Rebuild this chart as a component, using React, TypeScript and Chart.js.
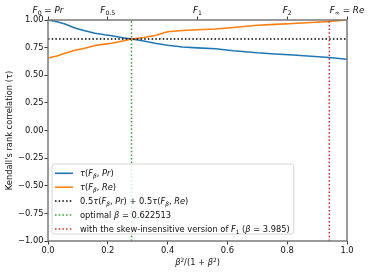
import React, { useEffect, useRef } from 'react';
import { Chart, registerables } from 'chart.js';

Chart.register(...registerables);

// x positions in beta^2 / (1 + beta^2)
const xVals = [0, 0.03, 0.057, 0.09, 0.12, 0.157, 0.19, 0.213, 0.25, 0.28, 0.32, 0.358, 0.4, 0.45, 0.5, 0.56, 0.62, 0.7, 0.76, 0.82, 0.88, 0.94, 1.0];
const tauPr = [1.0, 0.985, 0.964, 0.928, 0.905, 0.88, 0.866, 0.858, 0.84, 0.828, 0.81, 0.79, 0.772, 0.755, 0.748, 0.74, 0.722, 0.703, 0.693, 0.683, 0.672, 0.66, 0.645];
const tauRe = [0.656, 0.675, 0.7, 0.727, 0.742, 0.77, 0.782, 0.79, 0.81, 0.828, 0.842, 0.86, 0.893, 0.905, 0.912, 0.918, 0.932, 0.952, 0.96, 0.968, 0.978, 0.987, 1.0];
const avgLevel = 0.828;
const betaOpt = 0.622513;
const betaSkew = 3.985;

const yTicks = [-1, -0.75, -0.5, -0.25, 0, 0.25, 0.5, 0.75, 1];
const xTicks = [0, 0.2, 0.4, 0.6, 0.8, 1.0];
const topTickBetas = [0, 0.5, 1, 2, Infinity];

type Seg = [string, string];
const topTickLabels: Seg[][] = [
  [['F', 'i'], ['0', 'sub'], [' = ', 'n'], ['Pr', 'i']],
  [['F', 'i'], ['0.5', 'sub']],
  [['F', 'i'], ['1', 'sub']],
  [['F', 'i'], ['2', 'sub']],
  [['F', 'i'], ['∞', 'sub'], [' = ', 'n'], ['Re', 'i']],
];

const legendLabels: Seg[][] = [
  [['τ', 'i'], ['(', 'n'], ['F', 'i'], ['β', 'subi'], [', ', 'n'], ['Pr', 'i'], [')', 'n']],
  [['τ', 'i'], ['(', 'n'], ['F', 'i'], ['β', 'subi'], [', ', 'n'], ['Re', 'i'], [')', 'n']],
  [['0.5', 'n'], ['τ', 'i'], ['(', 'n'], ['F', 'i'], ['β', 'subi'], [', ', 'n'], ['Pr', 'i'], [') + 0.5', 'n'], ['τ', 'i'], ['(', 'n'], ['F', 'i'], ['β', 'subi'], [', ', 'n'], ['Re', 'i'], [')', 'n']],
  [['optimal ', 'n'], ['β', 'i'], [' = 0.622513', 'n']],
  [['with the skew-insensitive version of ', 'n'], ['F', 'i'], ['1', 'sub'], [' (', 'n'], ['β', 'i'], [' = 3.985)', 'n']],
];

const yTitle = "Kendall's rank correlation (τ)";
const xTitle: Seg[] = [['β', 'i'], ['2', 'sup'], ['/(1 + ', 'n'], ['β', 'i'], ['2', 'sup'], [')', 'n']];

const C_BLUE = '#1f77b4';
const C_ORANGE = '#ff7f0e';
const C_GREEN = '#2ca02c';
const C_RED = '#d62728';
const FONT = '"DejaVu Sans", sans-serif';
const FS = 8.3;
const TXT = '#111';
const DOT = [1.5, 2.2];
const DOT_W = 1.5;

const toX = (b: number) => (b === Infinity ? 1 : (b * b) / (1 + b * b));

function segFont(kind: string, size: number) {
  const italic = kind.endsWith('i');
  const small = kind.startsWith('sub') || kind.startsWith('sup');
  const s = small ? size * 0.7 : size;
  return `${italic ? 'italic ' : ''}${s}px ${FONT}`;
}

function measureRich(ctx: CanvasRenderingContext2D, segs: Seg[], size: number) {
  let w = 0;
  for (const [t, k] of segs) {
    ctx.font = segFont(k, size);
    w += ctx.measureText(t).width;
  }
  return w;
}

function drawRich(ctx: CanvasRenderingContext2D, segs: Seg[], x: number, yMid: number, size: number, align: string, color = TXT) {
  const total = measureRich(ctx, segs, size);
  let cx = align === 'center' ? x - total / 2 : align === 'right' ? x - total : x;
  const base = yMid + size * 0.36;
  ctx.fillStyle = color;
  ctx.textBaseline = 'alphabetic';
  ctx.textAlign = 'left';
  for (const [t, k] of segs) {
    ctx.font = segFont(k, size);
    let off = 0;
    if (k.startsWith('sub')) off = size * 0.22;
    if (k.startsWith('sup')) off = -size * 0.38;
    ctx.fillText(t, cx, base + off);
    cx += ctx.measureText(t).width;
  }
  return total;
}

const decorPlugin = {
  id: 'decor',
  afterDatasetsDraw(chart: any) {
    const ctx: CanvasRenderingContext2D = chart.ctx;
    const a = chart.chartArea;
    const xs = chart.scales.x;
    ctx.save();
    // frame
    ctx.strokeStyle = '#7a7a7a';
    ctx.lineWidth = 1.5;
    ctx.strokeRect(a.left, a.top, a.right - a.left, a.bottom - a.top);

    // legend
    const lx = 52, ly = 164;
    const rowH = 13.9;
    const textX = lx + 28;
    let maxW = 0;
    legendLabels.forEach((l) => { maxW = Math.max(maxW, measureRich(ctx, l, FS)); });
    const lw = textX - lx + maxW + 4;
    const lh = 70;
    const r = 2.5;
    ctx.beginPath();
    ctx.moveTo(lx + r, ly);
    ctx.lineTo(lx + lw - r, ly);
    ctx.arcTo(lx + lw, ly, lx + lw, ly + r, r);
    ctx.lineTo(lx + lw, ly + lh - r);
    ctx.arcTo(lx + lw, ly + lh, lx + lw - r, ly + lh, r);
    ctx.lineTo(lx + r, ly + lh);
    ctx.arcTo(lx, ly + lh, lx, ly + lh - r, r);
    ctx.lineTo(lx, ly + r);
    ctx.arcTo(lx, ly, lx + r, ly, r);
    ctx.closePath();
    ctx.fillStyle = 'rgba(255,255,255,0.8)';
    ctx.fill();
    ctx.strokeStyle = '#cccccc';
    ctx.lineWidth = 0.8;
    ctx.stroke();

    const handles = [
      { c: C_BLUE, d: [] as number[] },
      { c: C_ORANGE, d: [] as number[] },
      { c: '#000', d: DOT },
      { c: C_GREEN, d: DOT },
      { c: C_RED, d: DOT },
    ];
    legendLabels.forEach((l, i) => {
      const y = ly + 9.3 + i * rowH;
      ctx.beginPath();
      ctx.setLineDash(handles[i].d);
      ctx.strokeStyle = handles[i].c;
      ctx.lineWidth = handles[i].d.length ? DOT_W : 1.6;
      ctx.moveTo(lx + 3, y);
      ctx.lineTo(lx + 21, y);
      ctx.stroke();
      ctx.setLineDash([]);
      drawRich(ctx, l, textX, y, FS, 'left');
    });

    // top labels
    topTickBetas.forEach((b, i) => {
      const px = xs.getPixelForValue(toX(b));
      drawRich(ctx, topTickLabels[i], px, 10, 8.8, 'center');
    });

    // axis titles
    drawRich(ctx, xTitle, (a.left + a.right) / 2, 262, FS, 'center');
    ctx.save();
    ctx.translate(9.5, (a.top + a.bottom) / 2);
    ctx.rotate(-Math.PI / 2);
    ctx.font = `${FS}px ${FONT}`;
    ctx.fillStyle = TXT;
    ctx.textAlign = 'center';
    ctx.textBaseline = 'middle';
    ctx.fillText(yTitle, 0, 0);
    ctx.restore();

    ctx.restore();
  },
};

export default function App() {
  const ref = useRef<HTMLCanvasElement>(null);
  useEffect(() => {
    if (!ref.current) return;
    const xo = toX(betaOpt);
    const xsk = toX(betaSkew);
    const chart = new Chart(ref.current, {
      type: 'line',
      data: {
        datasets: [
          { data: xVals.map((x, i) => ({ x, y: tauPr[i] })), borderColor: C_BLUE, borderWidth: 1.6, pointRadius: 0, order: 5 },
          { data: xVals.map((x, i) => ({ x, y: tauRe[i] })), borderColor: C_ORANGE, borderWidth: 1.6, pointRadius: 0, order: 4 },
          { data: [{ x: 0, y: avgLevel }, { x: 1, y: avgLevel }], borderColor: '#000', borderWidth: DOT_W, borderDash: DOT, pointRadius: 0, order: 3 },
          { data: [{ x: xo, y: -1 }, { x: xo, y: 1 }], borderColor: C_GREEN, borderWidth: DOT_W, borderDash: DOT, pointRadius: 0, order: 2 },
          { data: [{ x: xsk, y: -1 }, { x: xsk, y: 1 }], borderColor: C_RED, borderWidth: DOT_W, borderDash: DOT, pointRadius: 0, order: 1 },
        ],
      },
      options: {
        responsive: false,
        animation: false,
        devicePixelRatio: 1,
        layout: { padding: { left: 0, right: 22, top: 0, bottom: 0 } },
        plugins: { legend: { display: false }, tooltip: { enabled: false } },
        elements: { line: { tension: 0 } },
        scales: {
          x: {
            type: 'linear', min: 0, max: 1, position: 'bottom',
            afterBuildTicks: (s: any) => { s.ticks = xTicks.map((v) => ({ value: v })); },
            afterFit: (s: any) => { s.height = 35; },
            ticks: { font: { family: FONT, size: FS }, color: TXT, padding: 1, maxRotation: 0, callback: (v: any) => Number(v).toFixed(1) },
            grid: { drawOnChartArea: false, drawTicks: true, tickLength: 3.5, tickColor: '#222', tickWidth: 0.9 },
            border: { display: false },
          },
          x2: {
            type: 'linear', min: 0, max: 1, position: 'top',
            afterBuildTicks: (s: any) => { s.ticks = topTickBetas.map((b) => ({ value: toX(b) })); },
            afterFit: (s: any) => { s.height = 20; },
            ticks: { display: false },
            grid: { drawOnChartArea: false, drawTicks: true, tickLength: 3.5, tickColor: '#222', tickWidth: 0.9 },
            border: { display: false },
          },
          y: {
            type: 'linear', min: -1, max: 1,
            afterBuildTicks: (s: any) => { s.ticks = yTicks.map((v) => ({ value: v })); },
            afterFit: (s: any) => { s.width = 48; },
            ticks: { font: { family: FONT, size: FS }, color: TXT, padding: 1, callback: (v: any) => Number(v).toFixed(2).replace('-', '−') },
            grid: { drawOnChartArea: false, drawTicks: true, tickLength: 3.5, tickColor: '#222', tickWidth: 0.9 },
            border: { display: false },
          },
        },
      } as any,
      plugins: [decorPlugin],
    });
    return () => chart.destroy();
  }, []);
  return (
    <div style={{ position: 'absolute', left: 0, top: 0, width: 369, height: 276, background: '#fff' }}>
      <canvas ref={ref} width={369} height={276} style={{ display: 'block', width: 369, height: 276 }} />
    </div>
  );
}
